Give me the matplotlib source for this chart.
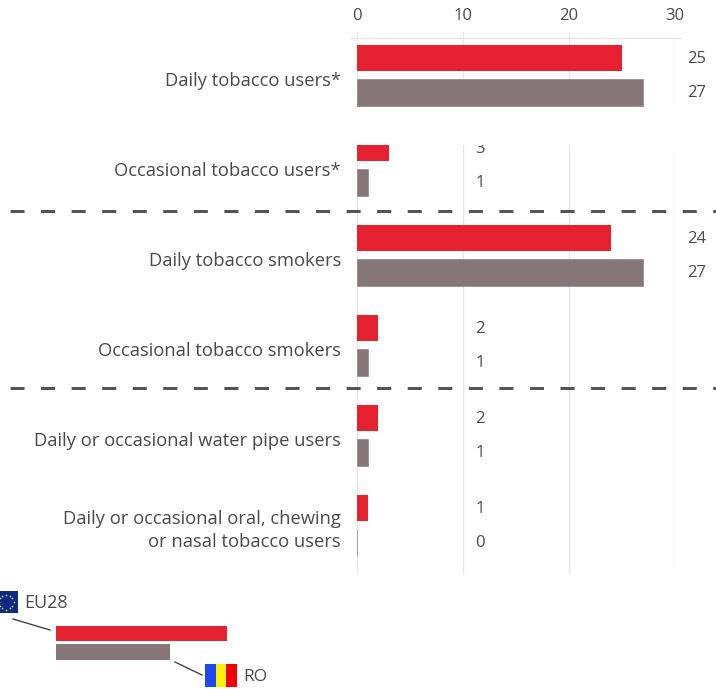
import numpy as np
import matplotlib
matplotlib.use("Agg")
import matplotlib.pyplot as plt
from matplotlib.patches import Rectangle

plt.rcParams['font.family'] = ['Open Sans', 'DejaVu Sans']

categories = ["Daily tobacco users*", "Occasional tobacco users*", "Daily tobacco smokers",
              "Occasional tobacco smokers", "Daily or occasional water pipe users",
              "Daily or occasional oral, chewing\nor nasal tobacco users"]
eu28 = [25, 3, 24, 2, 2, 1]
ro = [27, 1, 27, 1, 1, 0]
xticks = [0, 10, 20, 30]

RED = "#e52030"
GREY = "#877677"
TXT = "#4a4a4a"

W, H = 716, 689
fig = plt.figure(figsize=(W / 100, H / 100), dpi=100)

# main axes, placed by pixels of the reference
ax = fig.add_axes([357 / W, 1 - 574 / H, (674.5 - 357) / W, (574 - 32) / H])
pos = np.arange(len(categories))
ax.barh(pos - 0.19, eu28, height=0.29, color=RED, zorder=3)
ax.barh(pos + 0.19, ro, height=0.295, color=GREY, edgecolor=GREY, lw=0.4, zorder=3)
ax.set_xlim(0, 30)
ax.set_ylim((574 - 75.5) / 90, (32 - 75.5) / 90)
# label centres sit slightly below the group centres, the two-line one less so
label_pos = pos + 0.04
label_pos[-1] = pos[-1] + 0.0
ax.set_yticks(label_pos)
ax.set_yticklabels(categories, fontsize=13.2, color=TXT, linespacing=1.42)
ax.set_xticks(xticks)
ax.xaxis.tick_top()
ax.tick_params(axis='x', length=0, pad=6, labelsize=12, labelcolor=TXT)
ax.tick_params(axis='y', length=0, pad=11.5)
ax.grid(axis='x', color="#e6e6e6", lw=1, zorder=0)
for s in ax.spines.values():
    s.set_visible(False)

for i in pos:
    for off, v in ((-0.185, eu28[i]), (0.195, ro[i])):
        xt = 31.2 if v >= 10 else 11.2
        ax.text(xt, i + off, str(v), va='center', ha='left', fontsize=12, color=TXT, clip_on=False, zorder=4)

# overlay in pixel coordinates for band, separators and key
ov = fig.add_axes([0, 0, 1, 1], zorder=5)
ov.set_xlim(0, W)
ov.set_ylim(H, 0)
ov.axis('off')

ov.plot([350, 681], [38, 38], color="#e6e6e6", lw=1)
ov.add_patch(Rectangle((345, 107), W - 345, 38, fc="white", ec="none", zorder=2))
for y in (211, 388):
    ov.plot([10, W], [y, y], color="#555555", lw=2.2, dashes=(4.6, 5.4), zorder=3)

# key
ov.barh([633.5, 652], [171, 114.5], left=55.5, height=[15.5, 16], color=[RED, GREY])
ov.plot([13, 50], [619, 630], color="#444444", lw=1)
ov.plot([175, 202], [662, 675], color="#444444", lw=1)
ov.text(24, 603, "EU28", fontsize=13, color=TXT, va='center', ha='left')
ov.text(243, 677, "RO", fontsize=12.5, color=TXT, va='center', ha='left')

ov.add_patch(Rectangle((0, 591), 17.5, 22, fc="#0d2a86", ec="none"))
ang = np.arange(12) * np.pi / 6
ov.scatter(6 + 7.5 * np.cos(ang), 602 + 7.5 * np.sin(ang), s=1.5, color="#e8d44a", lw=0)
for x0, c in zip((205, 215.5, 226), ("#1c48f0", "#fff200", "#f00000")):
    ov.add_patch(Rectangle((x0, 664), 10.5, 22.5, fc=c, ec="none"))

fig.savefig("out.png", dpi=100)
